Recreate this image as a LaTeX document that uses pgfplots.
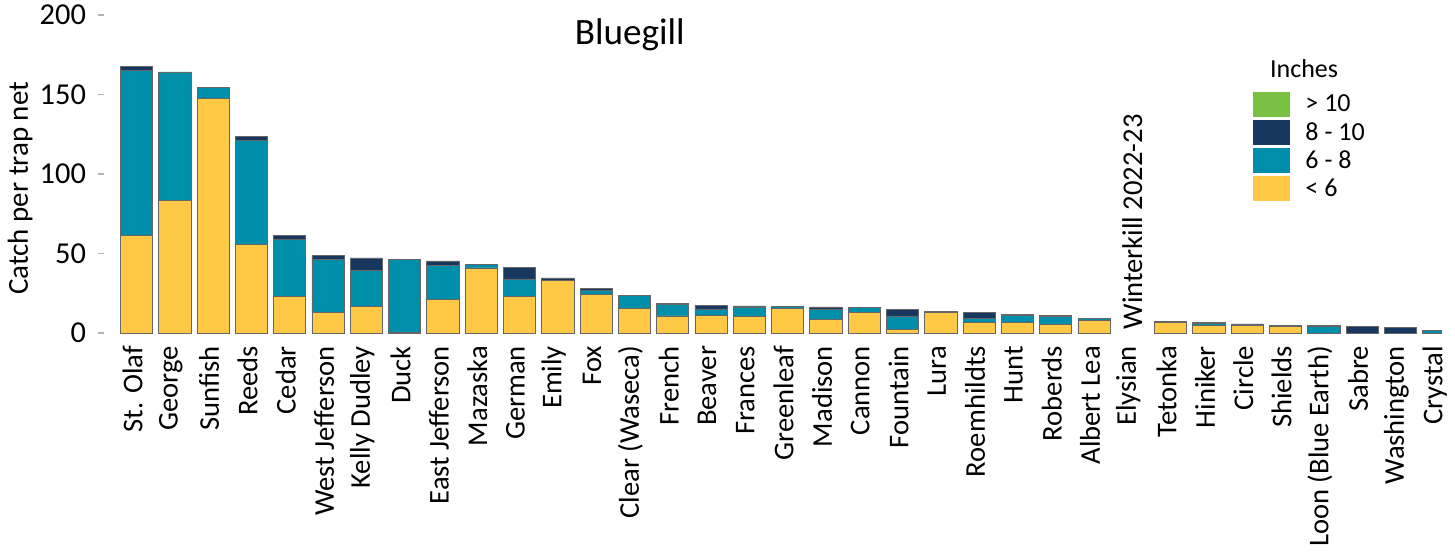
\documentclass[border=0pt]{standalone}
\usepackage{pgfplots}
\pgfplotsset{compat=1.18}
\usepackage{fontspec}
\setmainfont{Carlito}

\definecolor{lt6}{HTML}{FFC845}
\definecolor{six8}{HTML}{008FAA}
\definecolor{eight10}{HTML}{17375E}
\definecolor{gt10}{HTML}{7AC143}

\begin{document}
\begin{tikzpicture}
\path[use as bounding box] (-52pt,-109.5pt) rectangle (675.5pt,166.5pt);
\begin{axis}[
    at={(0,0)}, anchor=south west,
    x=19.15pt, y=0.795pt,
    xmin=-0.85, xmax=34.08, ymin=0, ymax=200,
    ybar stacked, bar width=0.84,
    axis line style={draw=none},
    tick align=outside,
    major tick length=3pt,
    ytick={0,50,100,150,200},
    ytick pos=left,
    y tick style={draw=gray!60, line width=0.6pt},
    yticklabel style={font=\fontsize{15.2}{18}\selectfont, xshift=-2.5pt},
    /pgf/number format/assume math mode=true,
    xtick={0,...,34},
    x tick style={draw=none},
    xticklabels={St. Olaf, George, Sunfish, Reeds, Cedar, West Jefferson,
        Kelly Dudley, Duck, East Jefferson, Mazaska, German, Emily, Fox,
        Clear (Waseca), French, Beaver, Frances, Greenleaf, Madison, Cannon,
        Fountain, Lura, Roemhildts, Hunt, Roberds, Albert Lea, Elysian,
        Tetonka, Hiniker, Circle, Shields, Loon (Blue Earth), Sabre,
        Washington, Crystal},
    xticklabel style={rotate=90, anchor=east, yshift=2pt,
        font=\fontsize{14.3}{16}\selectfont},
    ylabel={Catch per trap net},
    ylabel style={at={(axis description cs:-0.0531,0.455)}, anchor=south,
        inner sep=0pt, font=\fontsize{14.5}{17}\selectfont},
    title={Bluegill},
    title style={at={(axis description cs:0.393,0.899)}, anchor=center,
        font=\fontsize{18.6}{22}\selectfont},
    every axis plot/.append style={draw=black!60, line width=0.4pt},
    reverse legend,
    legend image code/.code={\path[#1,draw=none] (0pt,-6.25pt) rectangle (18.5pt,6.25pt);},
    legend style={at={(axis description cs:0.8589,0.758)}, anchor=north west,
        draw=none, fill=none, inner sep=0pt, row sep=1.5pt,
        font=\fontsize{13}{15}\selectfont, nodes={inner sep=0pt},
        /tikz/every odd column/.append style={column sep=7.5pt}},
    legend cell align=left,
]
% < 6 inches
\addplot[fill=lt6] coordinates {
 (0,61.4) (1,83.2) (2,147.6) (3,55.8) (4,23.1) (5,13.0) (6,16.8) (7,0.5)
 (8,21.2) (9,40.9) (10,22.8) (11,33.1) (12,24.3) (13,15.3) (14,10.7)
 (15,10.9) (16,10.3) (17,15.3) (18,8.6) (19,13.2) (20,2.5) (21,12.8)
 (22,6.7) (23,6.5) (24,5.4) (25,8.0) (27,6.5) (28,4.6) (29,4.7)
 (30,4.3) (31,0) (32,0) (33,0) (34,0)};
\addlegendentry{< 6}
% 6 - 8 inches
\addplot[fill=six8] coordinates {
 (0,103.6) (1,81.0) (2,6.7) (3,65.2) (4,35.6) (5,33.3) (6,22.4) (7,45.8)
 (8,21.4) (9,2.3) (10,11.2) (11,0) (12,2.3) (13,8.4) (14,7.0)
 (15,4.2) (16,6.1) (17,1.3) (18,6.1) (19,2.9) (20,8.2) (21,0)
 (22,2.5) (23,4.5) (24,5.0) (25,1.0) (27,1.0) (28,1.4) (29,0)
 (30,0) (31,3.9) (32,0) (33,0) (34,1.4)};
\addlegendentry{6 - 8}
% 8 - 10 inches
\addplot[fill=eight10] coordinates {
 (0,2.5) (1,0) (2,0) (3,2.9) (4,2.7) (5,2.3) (6,8.0) (7,0)
 (8,2.7) (9,0) (10,7.3) (11,1.5) (12,1.3) (13,0) (14,0.7)
 (15,2.3) (16,0.6) (17,0) (18,1.7) (19,0) (20,4.0) (21,1.0)
 (22,3.6) (23,0.7) (24,0.5) (25,0) (27,0) (28,0.7) (29,1.0)
 (30,0.6) (31,0.6) (32,3.9) (33,3.7) (34,0)};
\addlegendentry{8 - 10}
\addlegendimage{fill=gt10}
\addlegendentry{> 10}

\node[font=\fontsize{13}{15}\selectfont] at (axis description cs:0.897,0.833) {Inches};
\node[rotate=90, anchor=west, inner sep=0pt, font=\fontsize{14.3}{16}\selectfont]
    at (axis cs:26,2) {Winterkill 2022-23};
\end{axis}
\end{tikzpicture}
\end{document}
